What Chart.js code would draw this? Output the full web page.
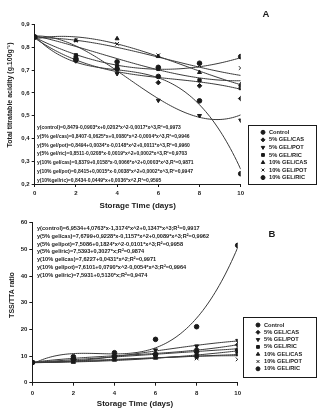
<!DOCTYPE html>
<html>
<head>
<meta charset="utf-8">
<script src="https://cdn.jsdelivr.net/npm/chart.js@4.4.1/dist/chart.umd.min.js"></script>
<style>
  html, body { margin: 0; padding: 0; background: #fff; }
  #wrap { position: relative; width: 321px; height: 417px; overflow: hidden; }
  #wrap canvas { position: absolute; left: 0; top: 0; }
</style>
</head>
<body>
<div id="wrap">
  <canvas id="chartA" width="321" height="417"></canvas>
  <canvas id="chartB" width="321" height="417"></canvas>
</div>
<script>
// ---- data ----
const days = [0, 2, 4, 6, 8, 10];
const seriesNames = ['Control', '5% GEL/CAS', '5% GEL/POT', '5% GEL/RIC', '10% GEL/CAS', '10% GEL/POT', '10% GEL/RIC'];
const xTicks = [0, 2, 4, 6, 8, 10];
const yTicksA = [0.2, 0.3, 0.4, 0.5, 0.6, 0.7, 0.8, 0.9];
const yTicksB = [0, 10, 20, 30, 40, 50, 60];

// Total titratable acidity (g.100g-1)
const acidControl = [0.845, 0.745, 0.736, 0.672, 0.565, 0.245];
const acidCas5    = [0.845, 0.740, 0.705, 0.645, 0.631, 0.575];
const acidPot5    = [0.845, 0.755, 0.684, 0.567, 0.500, 0.480];
const acidRic5    = [0.845, 0.765, 0.717, 0.705, 0.655, 0.621];
const acidCas10   = [0.845, 0.830, 0.838, 0.760, 0.690, 0.637];
const acidPot10   = [0.845, 0.830, 0.815, 0.765, 0.720, 0.709];
const acidRic10   = [0.845, 0.750, 0.705, 0.712, 0.730, 0.759];

// TSS/TTA ratio
const ratioControl = [7.6, 9.75, 11.25, 16.25, 21.0, 51.5];
const ratioCas5    = [7.6, 9.25, 10.25, 11.0, 12.5, 14.2];
const ratioPot5    = [7.6, 8.25, 9.75, 12.25, 13.75, 15.8];
const ratioRic5    = [7.6, 8.0, 9.0, 9.75, 9.75, 10.75];
const ratioCas10   = [7.6, 7.75, 8.5, 9.25, 10.75, 11.6];
const ratioPot10   = [7.6, 7.9, 8.75, 9.5, 9.1, 8.75];
const ratioRic10   = [7.6, 8.75, 9.75, 10.5, 11.6, 12.25];

// regression coefficients (constant, x, x^2, x^3) as printed in the equations
const fitAControl = [0.8479, -0.0903, 0.0202, -0.0017];
const fitACas5    = [0.8407, -0.0625, 0.0080, -0.0004];
const fitAPot5    = [0.8494, 0.0034, -0.0148, 0.0011];
const fitARic5    = [0.8511, -0.0208, -0.0019, 0.0002];
const fitACas10   = [0.8379, 0.0158, -0.0066, 0.0003];
const fitAPot10   = [0.8415, 0.0015, -0.0038, 0.0002];
const fitARic10   = [0.8434, -0.0449, 0.0036];
const r2A = ['0,9973', '0,9946', '0,9960', '0,9703', '0,9871', '0,9947', '0,9595'];
const eqNamesA = ['control', '5% gel/cas', '5% gel/pot', '5% gel/ric', '10% gel/cas', '10% gel/pot', '10%gel/ric'];

const fitBControl = [6.9534, 4.0763, -1.3174, 0.1347];
const fitBCas5    = [7.6799, 0.9228, -0.1157, 0.0089];
const fitBPot5    = [7.5086, 0, 0.1824, -0.0101];
const fitBRic5    = [7.5393, 0.3027];
const fitBCas10   = [7.6227, 0, 0.0431];
const fitBPot10   = [7.6101, 0, 0.0790, -0.0054];
const fitBRic10   = [7.5931, 0.5130];
const r2B = ['0,9917', '0,9962', '0,9958', '0,9874', '0,9971', '0,9964', '0,9474'];
const eqNamesB = ['control', '5% gel/cas', '5% gel/pot', '5% gel/ric', '10% gel/cas', '10% gel/pot', '10% gel/ric'];

// ---- styling ----
const INK = '#1a1a1a';
const LINE = '#3a3a3a';
const FONT = '"Liberation Sans", Arial, sans-serif';
const markers = [
  { pointStyle: 'circle',   rotation: 0 },
  { pointStyle: 'rectRot',  rotation: 0 },
  { pointStyle: 'triangle', rotation: 180 },
  { pointStyle: 'rect',     rotation: 0 },
  { pointStyle: 'triangle', rotation: 0 },
  { pointStyle: 'crossRot', rotation: 0 },
  { pointStyle: 'circle',   rotation: 0 }
];

// Evaluate a fitted polynomial along the x range so the trend line follows the printed equation
function trendPoints(coef) {
  const pts = [];
  for (let i = 0; i <= 100; i++) {
    const x = i / 10;
    let y = 0;
    for (let k = coef.length - 1; k >= 0; k--) y = y * x + coef[k];
    pts.push({ x, y });
  }
  return pts;
}

function fmt(v) { return Math.abs(v).toFixed(4).replace('.', ','); }

function equationText(name, coef, r2, sep) {
  let s = 'y(' + name + ')=' + fmt(coef[0]);
  for (let k = 1; k < coef.length; k++) {
    if (coef[k] === 0) continue;
    s += (coef[k] < 0 ? '-' : '+') + fmt(coef[k]) + '*x' + (k > 1 ? '^' + k : '');
  }
  return s + sep + 'R\u00B2=' + r2;
}

function buildDatasets(values, fits) {
  const sets = [];
  values.forEach((vals, i) => {
    sets.push({
      label: seriesNames[i],
      data: days.map((d, j) => ({ x: d, y: vals[j] })),
      showLine: false,
      pointStyle: markers[i].pointStyle,
      rotation: markers[i].rotation,
      pointRadius: markers[i].pointStyle === 'crossRot' ? 2.6 : 2.3,
      backgroundColor: INK,
      borderColor: INK,
      borderWidth: 1,
      order: 0
    });
  });
  fits.forEach((coef, i) => {
    sets.push({
      label: seriesNames[i] + ' fit',
      data: trendPoints(coef),
      showLine: true,
      pointRadius: 0,
      borderColor: LINE,
      borderWidth: 1,
      tension: 0,
      order: 1
    });
  });
  return sets;
}

// annotation plugin: panel letter, equations, y-axis title and boxed legend
const panelDecor = {
  id: 'panelDecor',
  afterDraw(chart, args, o) {
    const ctx = chart.ctx;
    ctx.save();
    ctx.fillStyle = INK;
    ctx.textBaseline = 'middle';

    // panel letter
    ctx.font = 'bold 9.5px ' + FONT;
    ctx.textAlign = 'center';
    ctx.fillText(o.letter, o.letterX, o.letterY);

    // regression equations
    ctx.font = 'bold ' + o.eqSize + 'px ' + FONT;
    ctx.textAlign = 'left';
    o.equations.forEach((t, i) => ctx.fillText(t, o.eqX, o.eqY + i * o.eqStep));

    // y-axis title
    ctx.save();
    ctx.translate(o.yTitleX, o.yTitleY);
    ctx.rotate(-Math.PI / 2);
    ctx.textAlign = 'center';
    ctx.font = 'bold 7px ' + FONT;
    ctx.fillText(o.yTitle, 0, 0);
    ctx.restore();

    // legend
    const L = o.legend;
    ctx.strokeStyle = INK;
    ctx.lineWidth = 1;
    ctx.strokeRect(L.x + 0.5, L.y + 0.5, L.w, L.h);
    ctx.font = 'bold 5.7px ' + FONT;
    ctx.textAlign = 'left';
    seriesNames.forEach((name, i) => {
      const yy = L.rowY + i * L.rowStep;
      ctx.fillStyle = INK;
      ctx.strokeStyle = INK;
      ctx.lineWidth = 1;
      Chart.helpers.drawPoint(ctx, {
        pointStyle: markers[i].pointStyle,
        rotation: markers[i].rotation,
        radius: 2,
        borderWidth: 1
      }, L.markX, yy);
      ctx.fillText(name, L.textX, yy);
    });
    ctx.restore();
  }
};

function axisOptions(opts) {
  return {
    x: {
      type: 'linear', min: 0, max: 10,
      afterBuildTicks: s => { s.ticks = xTicks.map(v => ({ value: v })); },
      ticks: { color: INK, font: { family: FONT, size: 6, weight: 'bold' }, padding: opts.xTickPad },
      grid: { display: true, drawOnChartArea: false, drawTicks: true, tickLength: 3, color: INK },
      border: { display: true, color: INK, width: 1 },
      title: { display: true, text: 'Storage Time (days)', color: INK,
               font: { family: FONT, size: 8, weight: 'bold' }, padding: { top: 0, bottom: 1 } },
      afterFit: s => { s.height = opts.xHeight; }
    },
    y: {
      type: 'linear', min: opts.yMin, max: opts.yMax,
      afterBuildTicks: s => { s.ticks = opts.yTicks.map(v => ({ value: v })); },
      ticks: { color: INK, font: { family: FONT, size: 6, weight: 'bold' }, padding: 2,
               callback: opts.yFormat },
      grid: { display: true, drawOnChartArea: false, drawTicks: true, tickLength: 3, color: INK },
      border: { display: true, color: INK, width: 1 },
      afterFit: s => { s.width = opts.yWidth; }
    }
  };
}

const fitsA = [fitAControl, fitACas5, fitAPot5, fitARic5, fitACas10, fitAPot10, fitARic10];
const fitsB = [fitBControl, fitBCas5, fitBPot5, fitBRic5, fitBCas10, fitBPot10, fitBRic10];

new Chart(document.getElementById('chartA'), {
  type: 'scatter',
  data: {
    datasets: buildDatasets(
      [acidControl, acidCas5, acidPot5, acidRic5, acidCas10, acidPot10, acidRic10], fitsA)
  },
  options: {
    responsive: false, animation: false, devicePixelRatio: 1,
    layout: { padding: { left: 0, top: 24.5, right: 80.3, bottom: 205 } },
    plugins: {
      legend: { display: false }, tooltip: { enabled: false },
      panelDecor: {
        letter: 'A', letterX: 266, letterY: 14,
        equations: eqNamesA.map((n, i) => equationText(n, fitsA[i], r2A[i], ',')),
        eqX: 37, eqY: 127.7, eqStep: 8.75, eqSize: 5,
        yTitle: 'Total titratable acidity (g.100g\u207B\u00B9)', yTitleX: 10, yTitleY: 95,
        legend: { x: 248, y: 125, w: 68, h: 59, markX: 263, textX: 269, rowY: 132.3, rowStep: 7.55 }
      }
    },
    scales: axisOptions({
      yMin: 0.2, yMax: 0.9, yTicks: yTicksA, yWidth: 34.7, xHeight: 28, xTickPad: 2.5,
      yFormat: v => v.toFixed(1).replace('.', ',')
    })
  },
  plugins: [panelDecor]
});

new Chart(document.getElementById('chartB'), {
  type: 'scatter',
  data: {
    datasets: buildDatasets(
      [ratioControl, ratioCas5, ratioPot5, ratioRic5, ratioCas10, ratioPot10, ratioRic10], fitsB)
  },
  options: {
    responsive: false, animation: false, devicePixelRatio: 1,
    layout: { padding: { left: 0, top: 222.7, right: 83.3, bottom: 7 } },
    plugins: {
      legend: { display: false }, tooltip: { enabled: false },
      panelDecor: {
        letter: 'B', letterX: 272, letterY: 234,
        equations: eqNamesB.map((n, i) => equationText(n, fitsB[i], r2B[i], ';')),
        eqX: 37, eqY: 228.3, eqStep: 7.85, eqSize: 5.6,
        yTitle: 'TSS/TTA ratio', yTitleX: 12, yTitleY: 295,
        legend: { x: 243, y: 317, w: 73, h: 60, markX: 258, textX: 264, rowY: 325, rowStep: 7.3 }
      }
    },
    scales: axisOptions({
      yMin: 0, yMax: 60, yTicks: yTicksB, yWidth: 32.3, xHeight: 27.3, xTickPad: 3.8,
      yFormat: v => String(v)
    })
  },
  plugins: [panelDecor]
});
</script>
</body>
</html>
